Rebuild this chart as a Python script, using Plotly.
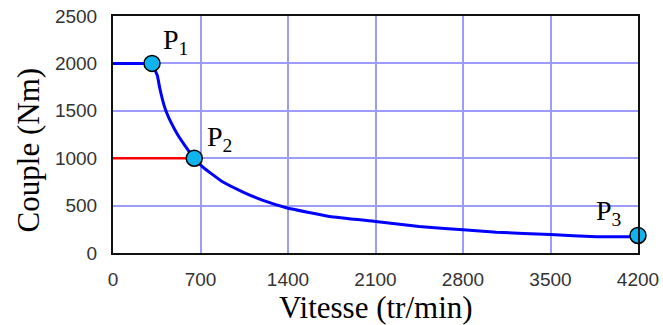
import plotly.graph_objects as go

# Palier de couple maxi (bleu) jusqu'a P1
vitesse_palier = [0, 312]
couple_palier = [2000, 2000]

# Courbe a puissance ~constante
vitesse = [312, 355, 374, 408, 427, 462, 520, 574, 650, 719, 880, 1040, 1200, 1387,
           1733, 2100, 2450, 2800, 3067, 3500, 3867, 4200]
couple = [2000, 1870, 1740, 1560, 1488, 1383, 1242, 1136, 1000, 907, 748, 643, 555, 478,
          386, 333, 280, 245, 220, 194, 172, 172]

# Palier rouge a 1000 Nm
vitesse_rouge = [0, 650]
couple_rouge = [1000, 1000]

# Points remarquables
points_nom = ["P<sub>1</sub>", "P<sub>2</sub>", "P<sub>3</sub>"]
points_vitesse = [312, 650, 4200]
points_couple = [2000, 1000, 185]
label_shift = [(23, 22), (25, 20), (-29, 23)]

x_ticks = [0, 700, 1400, 2100, 2800, 3500, 4200]
y_ticks = [0, 500, 1000, 1500, 2000, 2500]

fig = go.Figure()
fig.add_trace(go.Scatter(x=vitesse_rouge, y=couple_rouge, mode="lines",
                         line=dict(color="#ff0000", width=2.5), showlegend=False))
fig.add_trace(go.Scatter(x=vitesse_palier, y=couple_palier, mode="lines",
                         line=dict(color="#0000ff", width=3), showlegend=False))
fig.add_trace(go.Scatter(x=vitesse, y=couple, mode="lines",
                         line=dict(color="#0000ff", width=3, shape="spline", smoothing=0.4),
                         showlegend=False))
fig.add_trace(go.Scatter(x=points_vitesse, y=points_couple, mode="markers",
                         marker=dict(size=16, color="#0fb4ef", line=dict(color="#000000", width=1.5)),
                         cliponaxis=False, showlegend=False))

for nom, vx, vy, (dx, dy) in zip(points_nom, points_vitesse, points_couple, label_shift):
    fig.add_annotation(x=vx, y=vy, text=nom, showarrow=False, xshift=dx, yshift=dy,
                       font=dict(family="Liberation Serif, Times New Roman, serif", size=28, color="#000"))

tick_font = dict(family="Liberation Sans, Arial, sans-serif", size=19, color="#333333")
axis_common = dict(showgrid=True, gridcolor="#9c9cff", gridwidth=1.5, zeroline=False,
                   showline=True, linecolor="#111111", linewidth=2, mirror=True,
                   ticks="", tickfont=tick_font, automargin=False)

fig.update_xaxes(range=[0, 4200], tickvals=x_ticks, ticklabelstandoff=8, **axis_common)
fig.update_yaxes(range=[0, 2500], tickvals=y_ticks, ticklabelstandoff=10, **axis_common)

title_font = dict(family="Liberation Serif, Times New Roman, serif", size=31, color="#000")
fig.add_annotation(x=0.5, y=-0.228, xref="paper", yref="paper", text="Vitesse (tr/min)",
                   showarrow=False, xanchor="center", yanchor="middle", font=title_font)
fig.add_annotation(x=-0.161, y=0.435, xref="paper", yref="paper", text="Couple (Nm)",
                   showarrow=False, textangle=-90, xanchor="center", yanchor="middle", font=title_font)

fig.update_layout(width=663, height=325, margin=dict(l=113, r=25, t=16, b=72),
                  plot_bgcolor="#ffffff", paper_bgcolor="#ffffff")

# pas de marge autour du graphique dans la page, pas de barre d'outils
fig.write_html("out.html", config={"displayModeBar": False},
               post_script="document.body.style.margin='0px';")
